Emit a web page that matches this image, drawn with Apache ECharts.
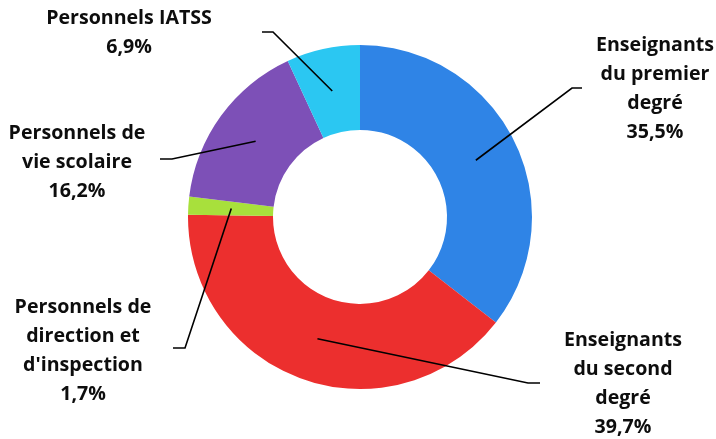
<!DOCTYPE html>
<html><head><meta charset="utf-8">
<script src="https://cdn.jsdelivr.net/npm/echarts@6/dist/echarts.min.js"></script>
<style>html,body{margin:0;padding:0;background:#fff}#c{width:716px;height:439px}</style>
</head><body><div id="c"></div>
<script>
const categories = ["Enseignants\ndu premier\ndegré", "Enseignants\ndu second\ndegré", "Personnels de\ndirection et\nd'inspection", "Personnels de\nvie scolaire", "Personnels IATSS"];
const values = [35.5, 39.7, 1.7, 16.2, 6.9];
const colors = ["#2F84E6", "#EC2F2E", "#A8E03C", "#7D50B7", "#2BC7F2"];
// label layout (text block centre) and leader line end
const labelPos = [[655, 89], [623, 384], [83, 351], [77, 162], [129, 33]];
const lineEnd = [[582, 88], [540, 383], [173, 348], [160, 159], [262, 32]];
const elbowDir = [-10, -12, 12, 12, 11];

const fmt = v => v.toFixed(1).replace('.', ',') + '%';
const center = [360, 217];
const midR = 129;

function fallbackStart(i) {
  const total = values.reduce((a, b) => a + b, 0);
  let cum = 0;
  for (let k = 0; k < i; k++) cum += values[k];
  const a = (cum + values[i] / 2) / total * Math.PI * 2;
  return [center[0] + midR * Math.sin(a), center[1] - midR * Math.cos(a)];
}

const data = categories.map((c, i) => ({ name: c, value: values[i], itemStyle: { color: colors[i] } }));
const chart = echarts.init(document.getElementById('c'), null, { renderer: 'canvas' });
chart.setOption({
  animation: false,
  series: [
    {
      type: 'pie', center: center, radius: [87, 172], startAngle: 90, clockwise: true,
      silent: true, label: { show: false }, labelLine: { show: false },
      data: data
    },
    {
      type: 'pie', center: center, radius: [0, midR], startAngle: 90, clockwise: true,
      silent: true, z: 5,
      itemStyle: { color: 'rgba(0,0,0,0)' },
      data: categories.map((c, i) => ({ name: c, value: values[i] })),
      label: {
        show: true, position: 'outside',
        formatter: p => p.name + '\n' + fmt(p.value),
        fontFamily: 'Open Sans', fontWeight: 'bold', fontSize: 19.6, lineHeight: 29, color: '#0d0d0d'
      },
      labelLine: { show: true, length: 10, length2: 10, lineStyle: { color: '#000', width: 1.6 } },
      labelLayout: function (p) {
        const i = p.dataIndex;
        const s = (p.labelLinePoints && p.labelLinePoints[0]) ? p.labelLinePoints[0] : fallbackStart(i);
        const e = lineEnd[i];
        return {
          x: labelPos[i][0], y: labelPos[i][1], align: 'center', verticalAlign: 'middle',
          labelLinePoints: [[s[0], s[1]], [e[0] + elbowDir[i], e[1]], [e[0], e[1]]]
        };
      }
    }
  ]
});
</script></body></html>
